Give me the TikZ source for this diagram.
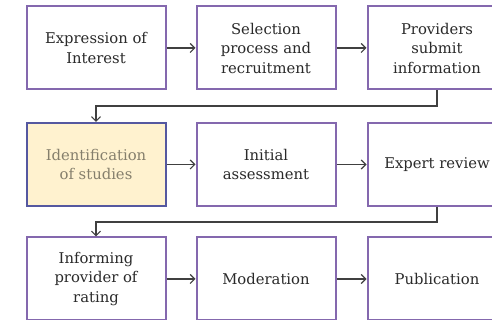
\documentclass[tikz,border=0pt]{standalone}
\usepackage{fontspec}
\setmainfont{DejaVu Serif}
\usetikzlibrary{arrows.meta}
\definecolor{boxpurple}{HTML}{8468AE}
\definecolor{hlborder}{HTML}{5558A0}
\definecolor{hlfill}{HTML}{FFF2CF}
\definecolor{hltext}{HTML}{857F6C}
\definecolor{txt}{HTML}{2A2A2A}
\definecolor{conn}{HTML}{404040}
\tikzset{
  stepbox/.style={draw=boxpurple, line width=2pt, fill=white, minimum width=139pt, minimum height=83pt,
    align=center, text=txt, font=\fontsize{14.8}{19.5}\selectfont, inner sep=0pt},
  hlbox/.style={stepbox, draw=hlborder, fill=hlfill, text=hltext},
  conarrow/.style={draw=conn, line width=1.2pt, -{Straight Barb[length=4.5pt,width=9pt,line width=1.2pt]}},
}
\begin{document}
\begin{tikzpicture}[x=1pt,y=1pt]
\useasboundingbox (0,0) rectangle (492,320);
\clip (0,0) rectangle (492,320);
% row 1
\node[stepbox] (a1) at (96,272) {Expression of\\Interest};
\node[stepbox] (a2) at (266,272) {Selection\\process and\\recruitment};
\node[stepbox] (a3) at (437,272) {Providers\\submit\\information};
% row 2
\node[hlbox] (b1) at (96,155.5) {Identification\\of studies};
\node[stepbox] (b2) at (266,155.5) {Initial\\assessment};
\node[stepbox] (b3) at (437,155.5) {Expert review};
% row 3
\node[stepbox] (c1) at (96,41) {Informing\\provider of\\rating};
\node[stepbox] (c2) at (266,41) {Moderation};
\node[stepbox] (c3) at (437,41) {Publication};
% horizontal connectors
\draw[conarrow] (a1) -- (a2);
\draw[conarrow] (a2) -- (a3);
\draw[conarrow] (b1) -- (b2);
\draw[conarrow] (b2) -- (b3);
\draw[conarrow] (c1) -- (c2);
\draw[conarrow] (c2) -- (c3);
% row changes
\coordinate (j1) at (437,214);
\coordinate (j2) at (437,98);
\draw[conarrow] (a3.south) -- (j1) -| (b1.north);
\draw[conarrow] (b3.south) -- (j2) -| (c1.north);
\end{tikzpicture}
\end{document}
